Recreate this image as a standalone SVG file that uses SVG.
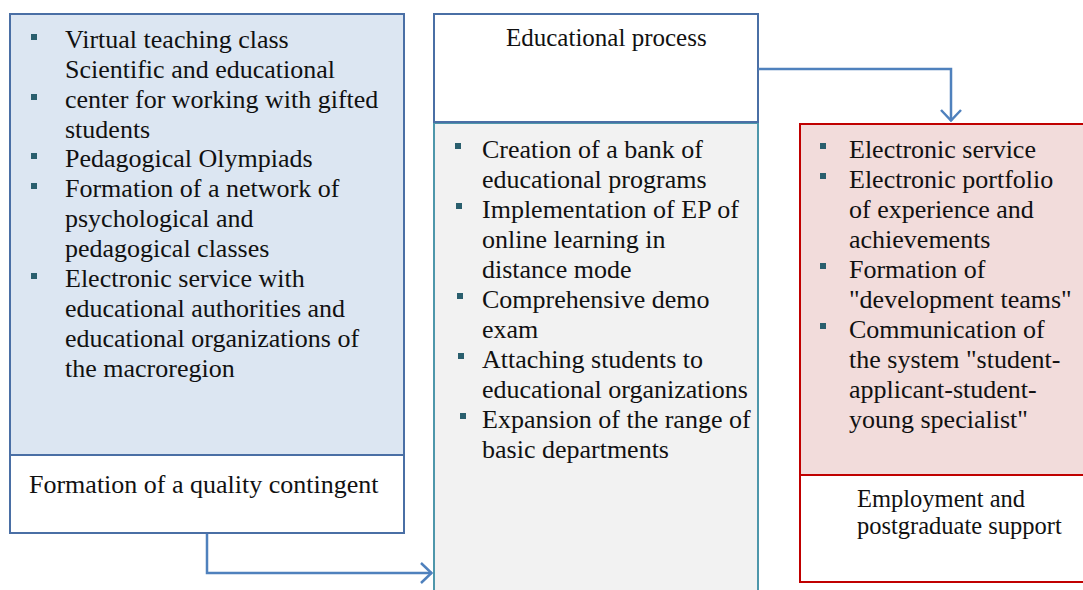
<svg xmlns="http://www.w3.org/2000/svg" width="1083" height="590" viewBox="0 0 1083 590">
  <style>
    .b { fill: #2a5f6e; }
    .blue { stroke: #4a6fa5; stroke-width: 2; }
    .teal { stroke: #4e97ab; stroke-width: 2; }
    .red { stroke: #c00000; stroke-width: 2; }
    .conn { fill: none; stroke: #4f81bd; stroke-width: 2.5; }
  </style>
  <defs>
    <marker id="chev" viewBox="0 0 13 22" refX="12" refY="11" markerWidth="13" markerHeight="22" markerUnits="userSpaceOnUse" orient="auto">
      <path d="M1,1 L11.5,11 L1,21" fill="none" stroke="#4f81bd" stroke-width="2.5"/>
    </marker>
  </defs>
  <rect width="1083" height="590" fill="#fff"/>

  <!-- left column: quality contingent -->
  <g id="contingent" font-family="'Liberation Serif', serif" font-size="26" fill="#111">
    <rect x="10" y="14" width="394" height="441" fill="#dce6f2" class="blue"/>
    <rect x="10" y="455" width="394" height="78" fill="#fff" class="blue"/>
    <rect class="b" x="31" y="34" width="6" height="6"/>
    <rect class="b" x="31" y="94" width="6" height="6"/>
    <rect class="b" x="31" y="153" width="6" height="6"/>
    <rect class="b" x="31" y="183" width="6" height="6"/>
    <rect class="b" x="31" y="273" width="6" height="6"/>
    <text x="65" y="48">Virtual teaching class</text>
    <text x="65" y="78">Scientific and educational</text>
    <text x="65" y="108">center for working with gifted</text>
    <text x="65" y="138">students</text>
    <text x="65" y="167">Pedagogical Olympiads</text>
    <text x="65" y="197">Formation of a network of</text>
    <text x="65" y="227">psychological and</text>
    <text x="65" y="257">pedagogical classes</text>
    <text x="65" y="287">Electronic service with</text>
    <text x="65" y="317">educational authorities and</text>
    <text x="65" y="347">educational organizations of</text>
    <text x="65" y="377">the macroregion</text>
    <text x="29" y="493">Formation of a quality contingent</text>
  </g>

  <!-- middle column: educational process -->
  <g id="process" font-family="'Liberation Serif', serif" font-size="26" fill="#111">
    <rect x="434" y="123" width="324" height="480" fill="#f2f2f2" class="teal"/>
    <rect x="434" y="14" width="324" height="108" fill="#fff" class="blue"/>
    <text x="506" y="46" font-size="25">Educational process</text>
    <rect class="b" x="455" y="143" width="6" height="6"/>
    <rect class="b" x="456" y="203" width="6" height="6"/>
    <rect class="b" x="457" y="293" width="6" height="6"/>
    <rect class="b" x="458" y="353" width="6" height="6"/>
    <rect class="b" x="460" y="413" width="6" height="6"/>
    <text x="482" y="158">Creation of a bank of</text>
    <text x="482" y="188">educational programs</text>
    <text x="482" y="218">Implementation of EP of</text>
    <text x="482" y="248">online learning in</text>
    <text x="482" y="278">distance mode</text>
    <text x="482" y="308">Comprehensive demo</text>
    <text x="482" y="338">exam</text>
    <text x="482" y="368">Attaching students to</text>
    <text x="482" y="398">educational organizations</text>
    <text x="482" y="428">Expansion of the range of</text>
    <text x="482" y="458">basic departments</text>
  </g>

  <!-- right column: employment -->
  <g id="employment" font-family="'Liberation Serif', serif" font-size="26" fill="#111">
    <rect x="800" y="124" width="300" height="351" fill="#f2dcdb" class="red"/>
    <rect x="800" y="475" width="300" height="107" fill="#fff" class="red"/>
    <rect class="b" x="820" y="143" width="6" height="6"/>
    <rect class="b" x="820" y="173" width="6" height="6"/>
    <rect class="b" x="820" y="263" width="6" height="6"/>
    <rect class="b" x="820" y="323" width="6" height="6"/>
    <text x="849" y="158">Electronic service</text>
    <text x="849" y="188">Electronic portfolio</text>
    <text x="849" y="218">of experience and</text>
    <text x="849" y="248">achievements</text>
    <text x="849" y="278">Formation of</text>
    <text x="849" y="308">"development teams"</text>
    <text x="849" y="338">Communication of</text>
    <text x="849" y="368">the system "student-</text>
    <text x="849" y="398">applicant-student-</text>
    <text x="849" y="428">young specialist"</text>
    <text x="857" y="507" font-size="24.5">Employment and</text>
    <text x="857" y="534" font-size="24.5">postgraduate support</text>
  </g>

  <!-- connectors -->
  <g id="connectors">
    <path class="conn" d="M758,69 H951 V121" marker-end="url(#chev)"/>
    <path class="conn" d="M207,534 V573 H432" marker-end="url(#chev)"/>
  </g>
</svg>
